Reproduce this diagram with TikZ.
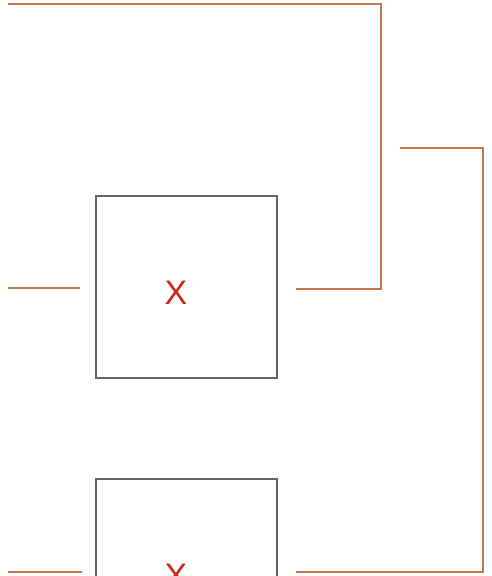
\documentclass[tikz,border=0pt]{standalone}
\usepackage{fontspec}
\setmainfont{Liberation Sans}
\definecolor{wire}{RGB}{200,118,80}
\definecolor{boxc}{RGB}{105,98,98}
\definecolor{lbl}{RGB}{200,40,20}
\tikzset{
  wireline/.style={draw=wire, line width=1.3pt},
  blockbox/.style={draw=boxc, line width=1.2pt, minimum width=181pt, minimum height=182pt, inner sep=0pt},
  xlabel/.style={text=lbl, font=\fontsize{34}{34}\selectfont, inner sep=0pt}
}
\begin{document}
\begin{tikzpicture}[x=1pt,y=-1pt]
\useasboundingbox (0,0) rectangle (491,576);
\clip (0,0) rectangle (491,576);
\fill[white] (0,0) rectangle (491,576);
\node[blockbox] (b1) at (186.5,287) {};
\node[blockbox] (b2) at (186.5,570) {};
\node[xlabel] (x1) at (176,293) {X};
\node[xlabel] (x2) at (176,576) {X};
% free ends
\coordinate (in1s) at (8,288);
\coordinate (in1e) at (80,288);
\coordinate (in2s) at (8,572);
\coordinate (in2e) at (82,572);
\coordinate (out1) at (296,289);
\coordinate (out2) at (296,572);
\coordinate (top1) at (8,4);
\coordinate (top2) at (400,148);
\draw[wireline] (in1s) -- (in1e);
\draw[wireline] (in2s) -- (in2e);
\draw[wireline] (top1) -- (381,4) -- (381,289) -- (out1);
\draw[wireline] (top2) -- (483,148) -- (483,572) -- (out2);
\end{tikzpicture}
\end{document}
